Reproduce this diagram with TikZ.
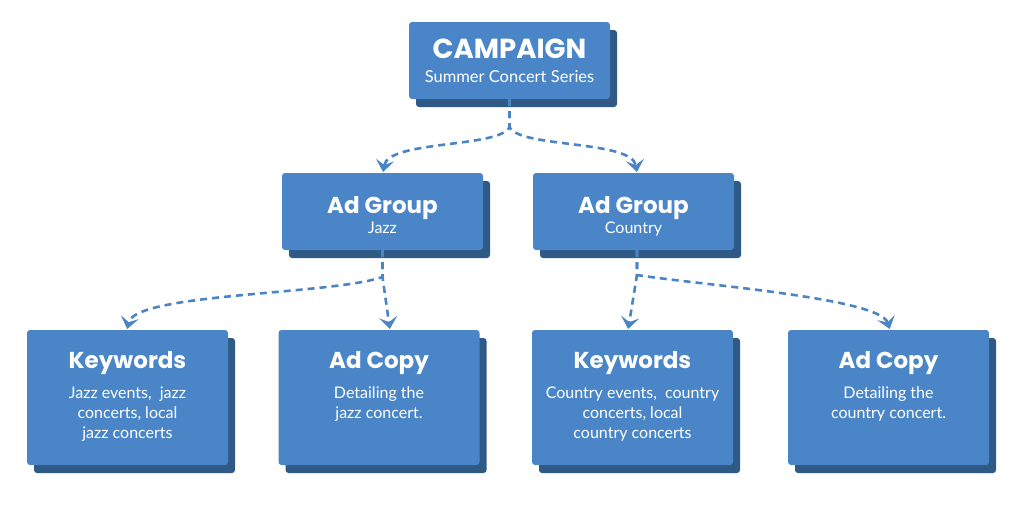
\documentclass[tikz,border=0pt]{standalone}
\usepackage{fontspec}
\setmainfont{Lato}
\newfontfamily\titlefont{Poppins}
\usetikzlibrary{arrows.meta,shadows}
\definecolor{boxblue}{HTML}{4A86C7}
\definecolor{boxshadow}{HTML}{2E5A85}
\definecolor{linkblue}{HTML}{4A84C4}
\begin{document}
\begin{tikzpicture}[x=1pt,y=-1pt,
  card/.style={fill=boxblue, rounded corners=3pt, draw=none, inner sep=0pt,
    minimum width=201pt,
    drop shadow={shadow xshift=7pt, shadow yshift=-8pt, fill=boxshadow, opacity=1}},
  smallcard/.style={card, minimum height=77pt},
  tallcard/.style={card, minimum height=135pt},
  ttl/.style={text=white, font=\titlefont\bfseries\fontsize{23}{27}\selectfont, anchor=base, inner sep=0pt},
  bigttl/.style={ttl, font=\titlefont\bfseries\fontsize{27.5}{32}\selectfont},
  subtxt/.style={text=white, font=\fontsize{16}{20}\selectfont, anchor=base, inner sep=0pt, align=center},
  trunk/.style={draw=linkblue, line width=2.6pt, dash pattern=on 7pt off 5pt},
  link/.style={trunk, -{Stealth[length=12pt,width=18pt,inset=5pt]}, shorten >=1pt},
]
\useasboundingbox (0,0) rectangle (1024,504);

% boxes
\node[smallcard] (camp) at (509.5,60.5) {};
\node[smallcard] (agj) at (382.5,211.5) {};
\node[smallcard] (agc) at (633.5,211.5) {};
\node[tallcard] (kwj) at (127.5,397.5) {};
\node[tallcard] (acj) at (379,397.5) {};
\node[tallcard] (kwc) at (632.5,397.5) {};
\node[tallcard] (acc) at (888.5,397.5) {};

% texts (multi-line text: base = last line)
\node[bigttl] (campt) at (509.5,58) {CAMPAIGN};
\node[subtxt, font=\fontsize{16.5}{20}\selectfont] (camps) at (509.5,82) {Summer Concert Series};
\node[ttl] (agjt) at (382.5,213) {Ad Group};
\node[subtxt] (agjs) at (382.5,233) {Jazz};
\node[ttl] (agct) at (633.5,213) {Ad Group};
\node[subtxt] (agcs) at (633.5,233) {Country};
\node[ttl] (kwjt) at (127.5,368) {Keywords};
\node[subtxt] (kwjs) at (127.5,438) {Jazz events,\ \ jazz\\concerts, local\\jazz concerts};
\node[ttl] (acjt) at (379,368) {Ad Copy};
\node[subtxt] (acjs) at (379,418) {Detailing the\\jazz concert.};
\node[ttl] (kwct) at (632.5,368) {Keywords};
\node[subtxt] (kwcs) at (632.5,438) {Country events,\ \ country\\concerts, local\\country concerts};
\node[ttl] (acct) at (888.5,368) {Ad Copy};
\node[subtxt] (accs) at (888.5,418) {Detailing the\\country concert.};

% junctions and targets
\coordinate (j0) at (509.5,127);
\coordinate (j1) at (382.5,277);
\coordinate (j1top) at (382.5,250);
\coordinate (j2) at (637,275);
\coordinate (j2top) at (637,250);
\coordinate (tagj) at (383,173);
\coordinate (tagc) at (637,173);
\coordinate (tkwj) at (127,330);
\coordinate (tacj) at (390,330);
\coordinate (tkwc) at (628,330);
\coordinate (tacc) at (890,330);

% connectors
\draw[link] (camp.south) -- (j0) .. controls (500,148) and (388,140) .. (tagj);
\draw[link] (camp.south) -- (j0) .. controls (519,148) and (632,140) .. (tagc);
\draw[link] (j1top) -- (j1) .. controls (330,295) and (135,293) .. (tkwj);
\draw[link] (j1top) -- (j1) -- (tacj);
\draw[link] (j2top) -- (j2) -- (tkwc);
\draw[link] (j2top) -- (j2) .. controls (700,285) and (880,298) .. (tacc);
\end{tikzpicture}
\end{document}
